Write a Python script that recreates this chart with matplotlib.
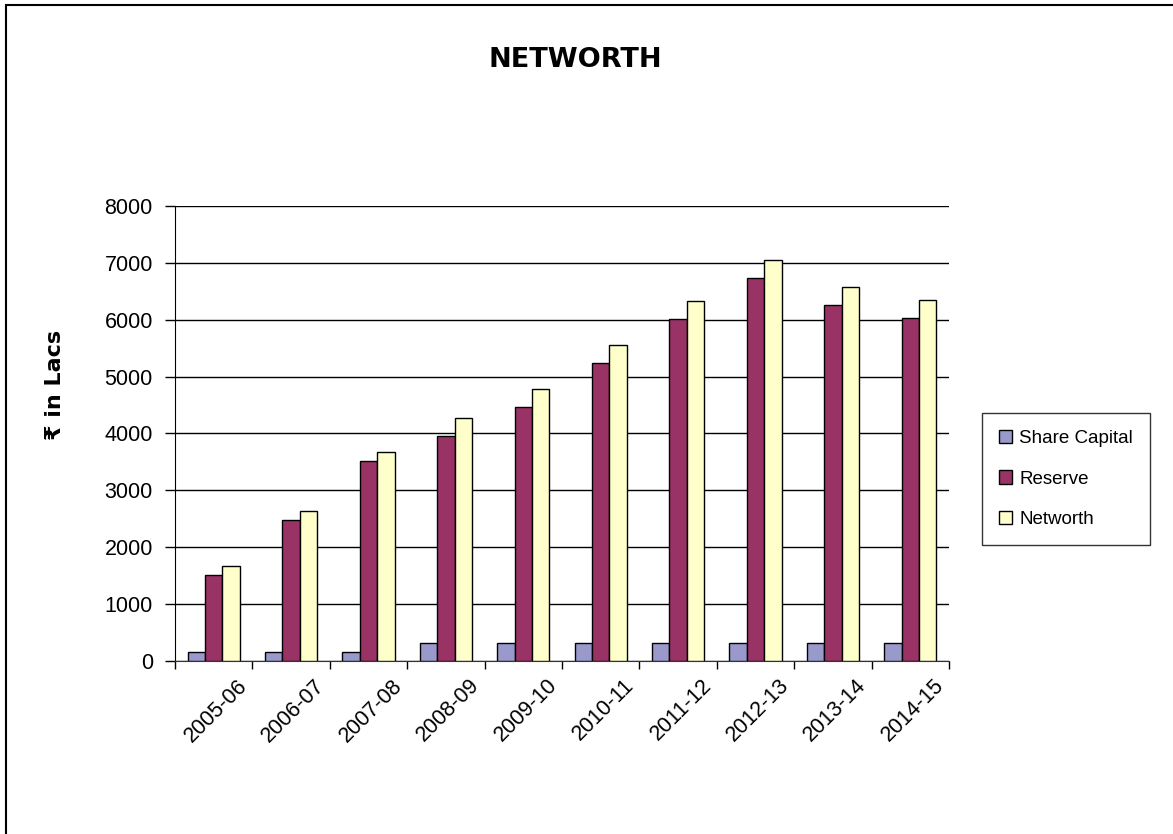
import matplotlib
matplotlib.use("Agg")
import matplotlib.pyplot as plt
import matplotlib.transforms as mtransforms
import numpy as np
from matplotlib.patches import Rectangle

years = ["2005-06", "2006-07", "2007-08", "2008-09", "2009-10",
         "2010-11", "2011-12", "2012-13", "2013-14", "2014-15"]
share_capital = [158, 158, 158, 315, 315, 315, 315, 315, 315, 315]
reserve = [1515, 2485, 3520, 3950, 4460, 5245, 6020, 6740, 6255, 6025]
networth = [1673, 2643, 3678, 4265, 4775, 5560, 6335, 7055, 6570, 6340]
series_names = ["Share Capital", "Reserve", "Networth"]
colors = ["#9999CC", "#993366", "#FFFFCC"]

W, H = 1173, 834
fig = plt.figure(figsize=(W / 100, H / 100), dpi=100)

# figure border
fig.patches.append(Rectangle((6 / W, -0.1), 1.2, 1 - 5 / H + 0.1, transform=fig.transFigure,
                             fill=False, edgecolor="black", linewidth=1.5))

ax = fig.add_axes([175 / W, 1 - 661 / H, (949 - 175) / W, (661 - 206) / H])

x = np.arange(len(years))
bw = 0.225
for i, (vals, name, c) in enumerate(zip([share_capital, reserve, networth], series_names, colors)):
    ax.bar(x + (i - 1) * bw, vals, width=bw, color=c, edgecolor="black", linewidth=1.0,
           label=name, zorder=3)

ax.set_xlim(-0.5, len(years) - 0.5)
ax.set_ylim(0, 8000)
ax.set_yticks(range(0, 8001, 1000))
ax.yaxis.grid(True, color="black", linewidth=1.0, zorder=0)
ax.tick_params(axis="y", length=7, width=1, direction="out", labelsize=15.5, pad=9)
for t in ax.get_yticklabels():
    t.set_fontfamily("Liberation Sans")

# category boundary ticks
ax.set_xticks(np.arange(-0.5, len(years), 1.0))
ax.set_xticklabels([])
ax.tick_params(axis="x", which="major", length=6, width=1, direction="out")

# rotated category labels
base = mtransforms.blended_transform_factory(ax.transData, ax.transAxes)
off = mtransforms.ScaledTranslation(23 / 100, -14 / 100, fig.dpi_scale_trans)
for xi, lab in zip(x, years):
    ax.text(xi, 0, lab, transform=base + off, rotation=45, ha="right", va="top",
            rotation_mode="anchor", fontsize=15.5, fontfamily="Liberation Sans")

for s in ["top", "right"]:
    ax.spines[s].set_visible(False)
ax.spines["left"].set_color("black")
ax.spines["bottom"].set_color("#333333")

fig.text(575 / W, 1 - 60 / H, "NETWORTH", ha="center", va="center", fontsize=19.5,
         fontweight="bold", fontfamily="DejaVu Sans")
fig.text(55 / W, 1 - 385 / H, "₹ in Lacs", ha="center", va="center", rotation=90,
         fontsize=16, fontweight="bold", fontfamily="DejaVu Sans")

leg = fig.legend(loc="center", bbox_to_anchor=(1066 / W, 1 - 479 / H), frameon=True,
                 fancybox=False, edgecolor="black", prop={"family": "Liberation Sans", "size": 13.5},
                 handlelength=0.7, handleheight=0.7, handletextpad=0.4, labelspacing=1.25,
                 borderpad=0.9)
leg.get_frame().set_linewidth(1.0)

fig.savefig("out.png", dpi=100)
